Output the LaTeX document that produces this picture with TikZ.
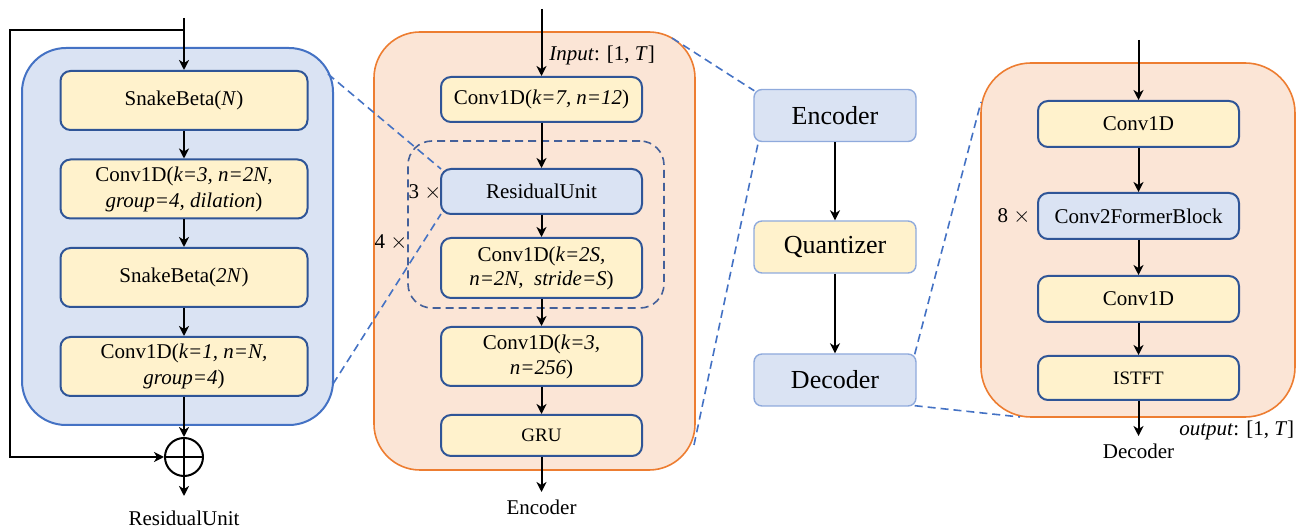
\documentclass[tikz,border=0pt]{standalone}
\usepackage{fontspec}
\setmainfont{Liberation Serif}
\usetikzlibrary{arrows.meta,calc}
\definecolor{yfill}{HTML}{FFF2CC}
\definecolor{bfill}{HTML}{DAE3F3}
\definecolor{dblue}{HTML}{2F5597}
\definecolor{mblue}{HTML}{4472C4}
\definecolor{lblue}{HTML}{8FAADC}
\definecolor{ofill}{HTML}{FBE5D6}
\definecolor{oline}{HTML}{ED7D31}
\definecolor{slate}{HTML}{44609A}
\begin{document}
\begin{tikzpicture}[x=0.5pt,y=-0.5pt,
  txt/.style={font=\fontsize{10.5}{12.5}\selectfont, inner sep=0pt},
  blk/.style={draw=dblue, line width=1pt, rounded corners=5pt, fill=yfill, align=center, inner sep=0pt, font=\fontsize{10.5}{13}\selectfont},
  leftblk/.style={blk, minimum width=123.5pt, minimum height=29.5pt},
  midblk/.style={blk, minimum width=100.5pt},
  rblk/.style={blk, minimum width=100.5pt, minimum height=23pt},
  colblk/.style={draw=lblue, line width=0.7pt, rounded corners=4pt, align=center, inner sep=0pt, minimum width=81pt, minimum height=26pt, font=\fontsize{13}{15}\selectfont},
  panelB/.style={draw=mblue, fill=bfill, line width=1pt, rounded corners=22pt, inner sep=0pt},
  panelO/.style={draw=oline, fill=ofill, line width=0.8pt, rounded corners=23pt, inner sep=0pt},
  zoomline/.style={draw=mblue, line width=0.8pt, dash pattern=on 4pt off 2.5pt},
  arr/.style={draw=black, line width=1pt, -{Stealth[length=5pt,width=5pt,inset=1.5pt]}},
]
\useasboundingbox (0,0) rectangle (1308,529);

% ---------------- panels ----------------
\node[panelB, minimum width=155.5pt, minimum height=188.5pt] (lp) at (177.5,236.5) {};
\node[panelO, minimum width=160.5pt, minimum height=219pt] (mp) at (534.5,251) {};
\node[panelO, minimum width=157pt, minimum height=177pt, rounded corners=25pt] (rp) at (1138,240) {};
\node[draw=slate, line width=0.8pt, dash pattern=on 4pt off 2.5pt, rounded corners=12pt, minimum width=128pt, minimum height=83.5pt, inner sep=0pt] (grp) at (536,224.5) {};

% ---------------- zoom connectors ----------------
\coordinate (lpA) at (328,74);
\coordinate (lpB) at (333,384);
\coordinate (mpA) at (672,38);
\coordinate (mpB) at (694,445);
\coordinate (rpA) at (981,102);
\coordinate (rpB) at (1020,417);
\coordinate (ruNW) at (441,169);
\coordinate (ruSW) at (441,214);
\draw[zoomline] (lpA) -- (ruNW);
\draw[zoomline] (lpB) -- (ruSW);

% ---------------- left panel (ResidualUnit) ----------------
\node[leftblk] (s1) at (184,100.5) {SnakeBeta(\textit{N})};
\node[leftblk] (c1) at (184,189) {Conv1D(\textit{k=3, n=2N,}\\\textit{group=4, dilation})};
\node[leftblk] (s2) at (184,277.5) {SnakeBeta(\textit{2N})};
\node[leftblk] (c2) at (184,366.5) {Conv1D(\textit{k=1, n=N,}\\\textit{group=4})};
\node[circle, draw=black, line width=1pt, minimum size=19pt, inner sep=0pt,
      path picture={\draw[line width=1pt] (path picture bounding box.north) -- (path picture bounding box.south)
                    (path picture bounding box.west) -- (path picture bounding box.east);}] (plus) at (184,457) {};
\node[txt] (ruLabel) at (184,518) {ResidualUnit};
\coordinate (ltop) at (184,18);
\coordinate (lsplit) at (184,30);
\coordinate (fb) at (10,457);
\coordinate (lout) at (184,496);

\draw[arr] (ltop) -- (s1.north);
\draw[arr] (s1) -- (c1);
\draw[arr] (c1) -- (s2);
\draw[arr] (s2) -- (c2);
\draw[arr] (c2) -- (plus.north);
\draw[arr] (lsplit) -| (fb) -- (plus.west);
\draw[arr] (plus.south) -- (lout);

% ---------------- middle panel (Encoder) ----------------
\node[midblk, minimum height=22.5pt] (e1) at (541.5,99.5) {Conv1D(\textit{k=7, n=12})};
\node[midblk, minimum height=22.5pt, fill=bfill] (ru) at (541.5,191.5) {ResidualUnit};
\node[midblk, minimum height=30pt, font=\fontsize{10.5}{12}\selectfont] (e2) at (541.5,268) {Conv1D(\textit{k=2S,}\\\textit{n=2N},\enspace\textit{stride=S})};
\node[midblk, minimum height=29.5pt, font=\fontsize{10.5}{12.5}\selectfont] (e3) at (541.5,356.5) {Conv1D(\textit{k=3,}\\\textit{n=256})};
\node[midblk, minimum height=20.5pt, font=\fontsize{9.5}{11}\selectfont] (gru) at (541.5,435.5) {GRU};
\node[txt, anchor=west] (inLabel) at (549,55) {\textit{Input}: [1, \textit{T}]};
\node[txt] (x3) at (425,192) {3 $\times$};
\node[txt] (x4) at (391,243) {4 $\times$};
\node[txt] (encLabel) at (541.5,507) {Encoder};
\coordinate (mtop) at (541.5,9);
\coordinate (mout) at (541.5,492);

\draw[arr] (mtop) -- (e1.north);
\draw[arr] (e1) -- (ru);
\draw[arr] (ru) -- (e2);
\draw[arr] (e2) -- (e3);
\draw[arr] (e3) -- (gru);
\draw[arr] (gru) -- (mout);

% ---------------- centre column ----------------
\node[colblk, fill=bfill] (enc) at (835,115.5) {Encoder};
\node[colblk, fill=yfill] (qua) at (835,247) {Quantizer};
\node[colblk, fill=bfill] (dec) at (835,380) {Decoder};
\draw[arr] (enc) -- (qua);
\draw[arr] (qua) -- (dec);

\draw[zoomline] (mpA) -- ($(enc.north west)+(1,2)$);
\draw[zoomline] (mpB) -- ($(enc.south west)+(5,0)$);
\draw[zoomline] ($(dec.north east)+(-2,1)$) -- (rpA);
\draw[zoomline] ($(dec.south east)+(-2,-1)$) -- (rpB);

% ---------------- right panel (Decoder) ----------------
\node[rblk] (d1) at (1138.5,124) {Conv1D};
\node[rblk, fill=bfill] (cf) at (1138.5,216) {Conv2FormerBlock};
\node[rblk] (d2) at (1138.5,299) {Conv1D};
\node[rblk, minimum height=22pt, font=\fontsize{9.5}{11}\selectfont] (ist) at (1138.5,378) {ISTFT};
\node[txt] (x8) at (1014,216) {8 $\times$};
\node[txt] (decLabel) at (1138.5,451) {Decoder};
\node[txt, anchor=west] (outLabel) at (1179,430) {\textit{output}: [1, \textit{T}]};
\coordinate (rtop) at (1138.5,40);
\coordinate (rout) at (1138.5,436);

\draw[arr] (rtop) -- (d1.north);
\draw[arr] (d1) -- (cf);
\draw[arr] (cf) -- (d2);
\draw[arr] (d2) -- (ist);
\draw[arr] (ist) -- (rout);
\end{tikzpicture}
\end{document}
